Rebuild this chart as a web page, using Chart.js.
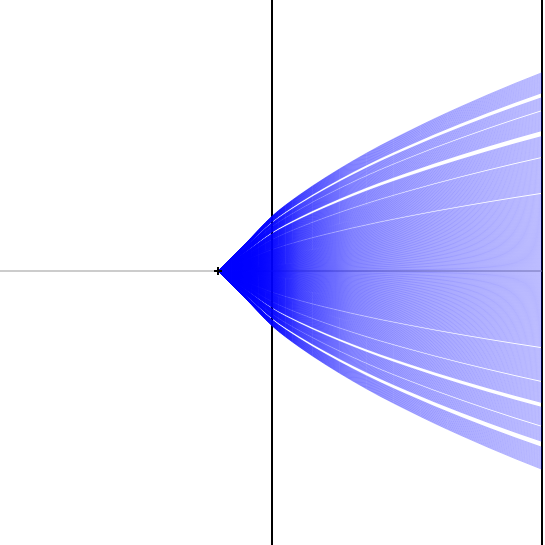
<!DOCTYPE html>
<html>
<head>
<meta charset="utf-8">
<script src="https://cdn.jsdelivr.net/npm/chart.js@4/dist/chart.umd.min.js"></script>
<style>
    html, body { margin: 0; padding: 0; background: #fff; }
    canvas { display: block; }
</style>
</head>
<body>
<canvas id="fan" width="545" height="545"></canvas>
<script>
"use strict";

// outer edge of the fan (x, half-height)
const envX = [-0.2, -0.15, -0.1, 0, 0.1, 0.2, 0.3, 0.4, 0.5, 0.6, 0.7, 0.8, 0.9, 1.0, 1.02];
const envY = [0, 0.05, 0.10, 0.204, 0.282, 0.349, 0.41, 0.466, 0.517, 0.566, 0.612, 0.656, 0.698, 0.738, 0.746];

// bands of curves (fraction of the edge) between the white gaps
const bandsUpper = [[0, 0.385], [0.395, 0.565], [0.575, 0.675], [0.705, 0.80], [0.81, 0.87], [0.895, 0.995]];
const bandsLower = [[0.005, 0.38], [0.39, 0.55], [0.56, 0.66], [0.685, 0.775], [0.785, 0.855], [0.885, 0.995]];
const bandStep = 0.005;

// line opacity along x (denser blue near the tip)
const shadeX = [-0.2, 0, 0.1, 0.3, 1];
const shadeAlpha = [0.75, 0.62, 0.44, 0.33, 0.28];

const vertex = { x: -0.2, y: 0 };
const guideX = [0, 1];

function curve(frac) {
    return envX.map((x, i) => ({ x: x, y: frac * envY[i] }));
}

let fanStroke = null;
function fanColor(ctx) {
    const chart = ctx.chart;
    if (!chart.chartArea) return "rgba(0, 0, 255, 0.3)";
    if (!fanStroke) {
        const xs = chart.scales.x;
        const first = shadeX[0];
        const last = shadeX[shadeX.length - 1];
        fanStroke = chart.ctx.createLinearGradient(xs.getPixelForValue(first), 0, xs.getPixelForValue(last), 0);
        shadeX.forEach((sx, i) => {
            fanStroke.addColorStop((sx - first) / (last - first), `rgba(0, 0, 255, ${shadeAlpha[i]})`);
        });
    }
    return fanStroke;
}

const datasets = [];

guideX.forEach((gx) => {
    datasets.push({
        data: [{ x: gx, y: -1.02 }, { x: gx, y: 1.02 }],
        borderColor: "#000",
        borderWidth: 2,
        pointRadius: 0,
        clip: false,
        order: 20
    });
});

datasets.push({
    data: [{ x: -1.01, y: 0 }, { x: 1, y: 0 }],
    borderColor: "#999",
    borderWidth: 1,
    pointRadius: 0,
    clip: false,
    order: 19
});

function addBands(bands, sign) {
    bands.forEach(([lo, hi]) => {
        const n = Math.round((hi - lo) / bandStep);
        for (let k = 0; k <= n; k++) {
            datasets.push({
                data: curve(sign * (lo + k * bandStep)),
                borderColor: fanColor,
                borderWidth: 1,
                pointRadius: 0,
                cubicInterpolationMode: "monotone",
                order: 5
            });
        }
    });
}
addBands(bandsUpper, 1);
addBands(bandsLower, -1);

datasets.push({
    data: [vertex],
    showLine: false,
    pointStyle: "cross",
    pointRadius: 4,
    pointBorderWidth: 2,
    pointBorderColor: "#000",
    clip: false,
    order: 0
});

new Chart(document.getElementById("fan"), {
    type: "line",
    data: { datasets: datasets },
    options: {
        responsive: false,
        animation: false,
        events: [],
        layout: { autoPadding: false, padding: { left: 2, right: 3, top: 1, bottom: 4 } },
        scales: {
            x: { type: "linear", min: -1, max: 1, display: false },
            y: { type: "linear", min: -1, max: 1, display: false }
        },
        plugins: {
            legend: { display: false },
            tooltip: { enabled: false }
        }
    }
});
</script>
</body>
</html>
